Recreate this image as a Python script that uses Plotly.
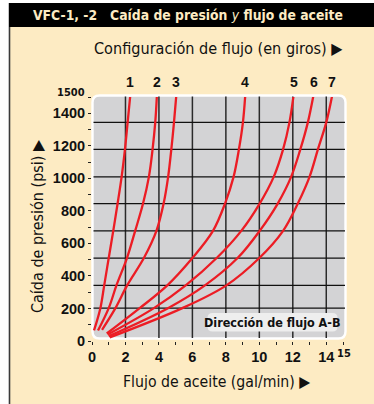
import plotly.graph_objects as go

# ---- data: oil flow (gal/min) vs pressure drop (psi) for each flow setting (turns)
settings = ["1", "2", "3", "4", "5", "6", "7"]

flow_1 = [0.12, 0.50, 0.73, 1.00, 1.27, 1.53, 1.77, 1.97, 2.13, 2.29]
psi_1 = [65, 202, 342, 510, 677, 845, 1009, 1178, 1344, 1513]

flow_2 = [0.36, 1.00, 1.46, 2.09, 2.58, 3.05, 3.40, 3.62, 3.78, 3.88]
psi_2 = [65, 202, 342, 510, 677, 845, 1009, 1178, 1344, 1513]

flow_3 = [0.60, 1.40, 2.10, 3.10, 3.85, 4.28, 4.55, 4.74, 4.90, 5.04]
psi_3 = [69, 202, 342, 510, 677, 845, 1009, 1178, 1344, 1513]

flow_4 = [0.88, 2.85, 4.50, 6.00, 7.23, 7.95, 8.46, 8.78, 9.02, 9.16]
psi_4 = [46, 202, 342, 510, 677, 845, 1009, 1178, 1344, 1513]

flow_5 = [0.94, 3.70, 5.60, 7.45, 8.92, 10.02, 10.86, 11.42, 11.80, 12.05]
psi_5 = [40, 202, 342, 510, 677, 845, 1009, 1178, 1344, 1513]

flow_6 = [1.00, 4.54, 6.75, 8.70, 10.02, 11.10, 11.90, 12.45, 12.90, 13.24]
psi_6 = [30, 202, 342, 510, 677, 845, 1009, 1178, 1344, 1513]

flow_7 = [1.06, 5.40, 8.03, 10.00, 11.42, 12.30, 13.00, 13.50, 14.00, 14.36]
psi_7 = [22, 202, 342, 510, 677, 845, 1009, 1178, 1344, 1513]

curves = [(flow_1, psi_1), (flow_2, psi_2), (flow_3, psi_3), (flow_4, psi_4),
          (flow_5, psi_5), (flow_6, psi_6), (flow_7, psi_7)]

# chart grid positions
grid_flow = [2, 4, 6, 8, 10, 12, 14]
grid_psi = [202, 342, 510, 677, 845, 1009, 1178, 1344]

# ---- page geometry (pixels) and helpers to convert to paper coordinates
W, H = 374, 404
ML, MR, MT, MB = 92, 31, 97, 63
PW = W - ML - MR
PH = H - MT - MB


def px(x):
    return (x - ML) / PW


def py(y):
    return (H - MB - y) / PH


def rounded_rect(x0, y0, x1, y1, r):
    # x0,y0 top-left / x1,y1 bottom-right in pixels
    X0, X1 = px(x0), px(x1)
    Y0, Y1 = py(y0), py(y1)
    rx, ry = r / PW, r / PH
    return (f"M {X0+rx},{Y0} L {X1-rx},{Y0} Q {X1},{Y0} {X1},{Y0-ry} "
            f"L {X1},{Y1+ry} Q {X1},{Y1} {X1-rx},{Y1} "
            f"L {X0+rx},{Y1} Q {X0},{Y1} {X0},{Y1+ry} "
            f"L {X0},{Y0-ry} Q {X0},{Y0} {X0+rx},{Y0} Z")


CREAM = "#FDEBC3"
RED = "#EC1C24"
NARROW = "Liberation Sans Narrow, DejaVu Sans Condensed, Arial Narrow, sans-serif"
BOLD = "Liberation Sans, Arial, sans-serif"

fig = go.Figure()

for (fx, fy) in curves:
    fig.add_trace(go.Scatter(
        x=fx, y=fy, mode="lines",
        line=dict(color=RED, width=2.3, shape="spline", smoothing=1.0),
        hoverinfo="skip", showlegend=False, cliponaxis=True,
    ))

shapes = []
# cream page with dark left rule
shapes.append(dict(type="rect", xref="paper", yref="paper",
                   x0=px(9), x1=px(W + 2), y0=py(H + 2), y1=py(3),
                   fillcolor=CREAM, line=dict(width=0), layer="below"))
shapes.append(dict(type="line", xref="paper", yref="paper",
                   x0=px(9.5), x1=px(9.5), y0=py(H + 2), y1=py(3),
                   line=dict(color="#3a3a3a", width=1.6), layer="below"))
# black header band
shapes.append(dict(type="rect", xref="paper", yref="paper",
                   x0=px(9), x1=px(W + 2), y0=py(27), y1=py(3),
                   fillcolor="#000000", line=dict(width=0), layer="below"))
# gray plotting panel
shapes.append(dict(type="path", xref="paper", yref="paper",
                   path=rounded_rect(92.5, 95.5, 345.5, 338.5, 7),
                   fillcolor="#D3D3D5", line=dict(color="white", width=2.4),
                   layer="below"))
# grid
for g in grid_flow:
    shapes.append(dict(type="line", xref="x", yref="paper",
                       x0=g, x1=g, y0=py(338), y1=py(96.5),
                       line=dict(color="#2a2a2a", width=1.5), layer="below"))
for g in grid_psi:
    shapes.append(dict(type="line", xref="paper", yref="y",
                       x0=px(93.5), x1=px(345), y0=g, y1=g,
                       line=dict(color="#111111", width=1.3), layer="below"))
# flow-direction tag
shapes.append(dict(type="path", xref="paper", yref="paper",
                   path=rounded_rect(207.5, 313, 337.5, 331.5, 5),
                   fillcolor="#EEEEEE", line=dict(width=0), layer="below"))

annotations = []
annotations.append(dict(
    xref="paper", yref="paper", x=px(188), y=py(15.5),
    text="VFC-1, -2&nbsp;&nbsp;&nbsp;Caída de presión <i><span style='font-weight:normal'>y</span></i> flujo de aceite",
    showarrow=False, font=dict(family=NARROW, size=13.8, color=CREAM, weight="bold"),
    xanchor="center", yanchor="middle"))
annotations.append(dict(
    xref="paper", yref="paper", x=px(218.5), y=py(48),
    text="Configuración de flujo (en giros) ▶",
    showarrow=False, font=dict(family=NARROW, size=16.1, color="#111111"),
    xanchor="center", yanchor="middle"))
annotations.append(dict(
    xref="paper", yref="paper", x=px(216.5), y=py(381),
    text="Flujo de aceite (gal/min) ▶",
    showarrow=False, font=dict(family=NARROW, size=15.7, color="#111111"),
    xanchor="center", yanchor="middle"))
annotations.append(dict(
    xref="paper", yref="paper", x=px(37), y=py(226),
    text="Caída de presión (psi) ▶", textangle=-90,
    showarrow=False, font=dict(family=NARROW, size=16, color="#111111"),
    xanchor="center", yanchor="middle"))
annotations.append(dict(
    xref="paper", yref="paper", x=px(272.5), y=py(322),
    text="Dirección de flujo A-B",
    showarrow=False, font=dict(family=NARROW, size=12.5, color="#111111", weight="bold"),
    xanchor="center", yanchor="middle"))
annotations.append(dict(
    xref="paper", yref="paper", x=px(87), y=py(92),
    text="1500", showarrow=False,
    font=dict(family=NARROW, size=11, color="#111111", weight="bold"),
    xanchor="right", yanchor="middle"))
annotations.append(dict(
    xref="paper", yref="paper", x=px(343.5), y=py(353),
    text="15", showarrow=False,
    font=dict(family=NARROW, size=11, color="#111111", weight="bold"),
    xanchor="center", yanchor="middle"))
# setting numbers over the top of each curve
for name, (fx, fy) in zip(settings, curves):
    annotations.append(dict(
        xref="x", yref="paper", x=fx[-1], y=py(82),
        text=name, showarrow=False,
        font=dict(family=BOLD, size=14, color="#111111", weight="bold"),
        xanchor="center", yanchor="middle"))

fig.update_layout(
    width=W, height=H,
    margin=dict(l=ML, r=MR, t=MT, b=MB, pad=0),
    paper_bgcolor="white", plot_bgcolor="rgba(0,0,0,0)",
    showlegend=False,
    shapes=shapes, annotations=annotations,
    xaxis=dict(range=[0, 15], tick0=0, dtick=2, ticks="outside", ticklen=3,
               tickwidth=1.3, tickcolor="#222222", showgrid=False, zeroline=False,
               showline=False,
               tickfont=dict(family=BOLD, size=14.5, color="#111111", weight="bold"),
               minor=dict(tick0=0, dtick=1, ticks="outside", ticklen=3,
                          tickwidth=1.3, tickcolor="#222222", showgrid=False)),
    yaxis=dict(range=[0, 1500], tick0=0, dtick=200, ticks="outside", ticklen=3,
               tickwidth=1.3, tickcolor="#222222", showgrid=False, zeroline=False,
               showline=False,
               tickfont=dict(family=BOLD, size=14.5, color="#111111", weight="bold"),
               minor=dict(tick0=0, dtick=100, ticks="outside", ticklen=3,
                          tickwidth=1.3, tickcolor="#222222", showgrid=False)),
)

fig.write_html("out.html")
